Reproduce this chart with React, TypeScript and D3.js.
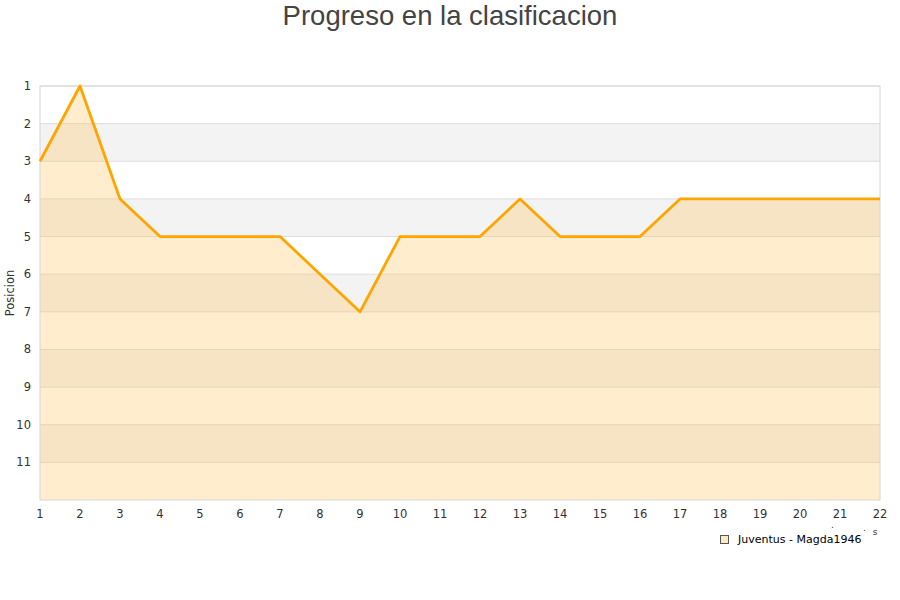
import * as d3 from 'd3';
import React, { useRef, useEffect } from 'react';

const jornadas = [1, 2, 3, 4, 5, 6, 7, 8, 9, 10, 11, 12, 13, 14, 15, 16, 17, 18, 19, 20, 21, 22];
const posiciones = [3, 1, 4, 5, 5, 5, 5, 6, 7, 5, 5, 5, 4, 5, 5, 5, 4, 4, 4, 4, 4, 4];
const yTicks = [1, 2, 3, 4, 5, 6, 7, 8, 9, 10, 11];
const serieName = 'Juventus - Magda1946';

const App = () => {
    const ref = useRef<SVGSVGElement>(null);

    useEffect(() => {
        const svg = d3.select(ref.current);
        svg.selectAll('*').remove();

        const left = 40, right = 880, top = 86, bottom = 500;
        const font = 'DejaVu Sans, sans-serif';

        const x = d3.scaleLinear().domain([1, 22]).range([left, right]);
        const y = d3.scaleLinear().domain([1, 12]).range([top, bottom]);

        // alternating bands
        const bands = d3.range(1, 12);
        svg.append('g')
            .selectAll('rect')
            .data(bands)
            .join('rect')
            .attr('x', left)
            .attr('width', right - left)
            .attr('y', (d: any) => y(d))
            .attr('height', (d: any) => y(d + 1) - y(d))
            .attr('fill', (d: any) => (d % 2 === 0 ? '#f3f3f3' : '#ffffff'));

        // grid lines
        svg.append('g')
            .selectAll('line')
            .data(yTicks)
            .join('line')
            .attr('x1', left)
            .attr('x2', right)
            .attr('y1', (d: any) => y(d))
            .attr('y2', (d: any) => y(d))
            .attr('stroke', '#dddddd')
            .attr('stroke-width', 1);

        const data = jornadas.map((j, i) => [j, posiciones[i]]);

        const area = d3.area<any>()
            .x((d) => x(d[0]))
            .y0(bottom)
            .y1((d) => y(d[1]));

        svg.append('path')
            .attr('d', area(data))
            .attr('fill', 'rgba(255, 190, 80, 0.28)');

        // plot border
        svg.append('rect')
            .attr('x', left)
            .attr('y', top)
            .attr('width', right - left)
            .attr('height', bottom - top)
            .attr('fill', 'none')
            .attr('stroke', '#d6d6d6');

        const line = d3.line<any>()
            .x((d) => x(d[0]))
            .y((d) => y(d[1]));

        svg.append('path')
            .attr('d', line(data))
            .attr('fill', 'none')
            .attr('stroke', '#ffa500')
            .attr('stroke-width', 2.8)
            .attr('stroke-linejoin', 'round');

        // y tick labels
        svg.append('g')
            .selectAll('text')
            .data(yTicks)
            .join('text')
            .attr('x', 31)
            .attr('y', (d: any) => y(d) + 4)
            .attr('text-anchor', 'end')
            .attr('font-family', font)
            .attr('font-size', 11.5)
            .attr('fill', '#333')
            .text((d: any) => d);

        // x tick labels
        svg.append('g')
            .selectAll('text')
            .data(jornadas)
            .join('text')
            .attr('x', (d: any) => x(d))
            .attr('y', 518)
            .attr('text-anchor', 'middle')
            .attr('font-family', font)
            .attr('font-size', 11.5)
            .attr('fill', '#333')
            .text((d: any) => d);

        // y axis title
        svg.append('text')
            .attr('transform', `translate(14, 293) rotate(-90)`)
            .attr('text-anchor', 'middle')
            .attr('font-family', font)
            .attr('font-size', 11.5)
            .attr('fill', '#333')
            .text('Posicion');

        // clipped x axis title remnants
        svg.append('text')
            .attr('x', 875)
            .attr('y', 535)
            .attr('text-anchor', 'middle')
            .attr('font-family', font)
            .attr('font-size', 9)
            .attr('fill', '#333')
            .text('s');
        svg.append('text')
            .attr('x', 831)
            .attr('y', 528)
            .attr('font-family', font)
            .attr('font-size', 9)
            .attr('fill', '#333')
            .text('.');
        svg.append('text')
            .attr('x', 863)
            .attr('y', 531)
            .attr('font-family', font)
            .attr('font-size', 9)
            .attr('fill', '#333')
            .text('.');

        // title
        svg.append('text')
            .attr('x', 450)
            .attr('y', 25)
            .attr('text-anchor', 'middle')
            .attr('font-family', 'Liberation Sans, Arial, sans-serif')
            .attr('font-size', 27.5)
            .attr('fill', '#444')
            .text('Progreso en la clasificacion');

        // legend
        svg.append('rect')
            .attr('x', 720.5)
            .attr('y', 535.5)
            .attr('width', 8)
            .attr('height', 8)
            .attr('fill', '#fde9c4')
            .attr('stroke', '#555');
        svg.append('text')
            .attr('x', 738)
            .attr('y', 543)
            .attr('font-family', font)
            .attr('font-size', 11)
            .attr('fill', '#000')
            .text(serieName);
    }, []);

    return (
        <div style={{ position: 'absolute', left: 0, top: 0 }}>
            <svg ref={ref} width={900} height={600} style={{ display: 'block', background: '#fff' }} />
        </div>
    );
};

export default App;
